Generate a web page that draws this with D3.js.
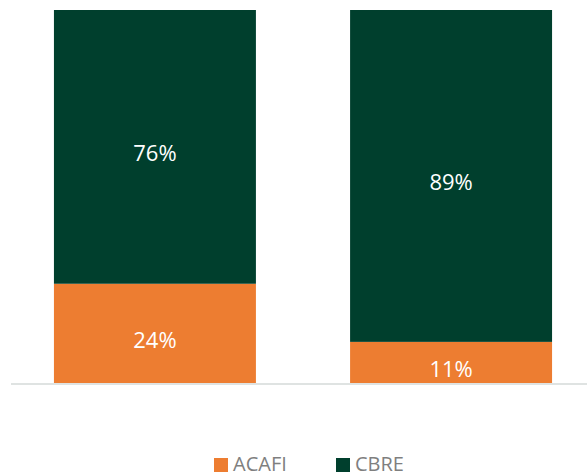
<!DOCTYPE html>
<html>
<head>
<meta charset="utf-8">
<script src="https://cdn.jsdelivr.net/npm/d3@7"></script>
<style>
  body { margin: 0; background: #fff; }
  svg { display: block; font-family: "Open Sans", sans-serif; }
</style>
</head>
<body>
<svg id="chart" width="587" height="476"></svg>
<script>
// data
var categories = ["1", "2"];
var seriesNames = ["ACAFI", "CBRE"];
var acafiValues = [27, 11.5];
var cbreValues = [73, 88.5];
var acafiLabels = ["24%", "11%"];
var cbreLabels = ["76%", "89%"];
var colors = ["#ED7D31", "#003F2D"];

var svg = d3.select("#chart");

var x = d3.scaleBand()
    .domain(categories)
    .range([11, 595])
    .paddingInner(0.318)
    .paddingOuter(0.145);

var y = d3.scaleLinear()
    .domain([0, 100])
    .range([385, 10]);

// build stacked rows
var rows = categories.map(function(c, i){
  return {cat: c, ACAFI: acafiValues[i], CBRE: cbreValues[i]};
});
var labels = {ACAFI: acafiLabels, CBRE: cbreLabels};

var stack = d3.stack().keys(seriesNames)(rows);

var groups = svg.selectAll("g.series")
  .data(stack)
  .enter().append("g")
    .attr("class", "series")
    .attr("fill", function(d, i){ return colors[i]; });

groups.selectAll("rect")
  .data(function(d){ return d; })
  .enter().append("rect")
    .attr("x", function(d){ return x(d.data.cat); })
    .attr("width", x.bandwidth())
    .attr("y", function(d){ return y(d[1]); })
    .attr("height", function(d){ return y(d[0]) - y(d[1]); });

// axis line
svg.append("line")
  .attr("x1", x.range()[0])
  .attr("x2", x.range()[1])
  .attr("y1", y(0) - 1)
  .attr("y2", y(0) - 1)
  .attr("stroke", "#DFE3E2")
  .attr("stroke-width", 2);

// value labels
stack.forEach(function(s){
  svg.selectAll("text.lbl-" + s.key)
    .data(s)
    .enter().append("text")
      .attr("class", "lbl-" + s.key)
      .attr("x", function(d){ return x(d.data.cat) + x.bandwidth() / 2; })
      .attr("y", function(d){ return (y(d[0]) + y(d[1])) / 2; })
      .attr("dy", "0.62em")
      .attr("text-anchor", "middle")
      .attr("fill", "#fff")
      .style("font-size", "22px")
      .text(function(d, i){ return labels[s.key][i]; });
});

// legend
var legend = svg.selectAll("g.legend")
  .data(seriesNames)
  .enter().append("g")
    .attr("class", "legend")
    .attr("transform", function(d, i){ return "translate(" + (214 + i * 122) + ",458)"; });

legend.append("rect")
  .attr("width", 14)
  .attr("height", 14)
  .attr("fill", function(d, i){ return colors[i]; });

legend.append("text")
  .attr("x", 19)
  .attr("y", 12.5)
  .attr("fill", "#7F7F7F")
  .style("font-size", "20px")
  .text(function(d){ return d; });
</script>
</body>
</html>
